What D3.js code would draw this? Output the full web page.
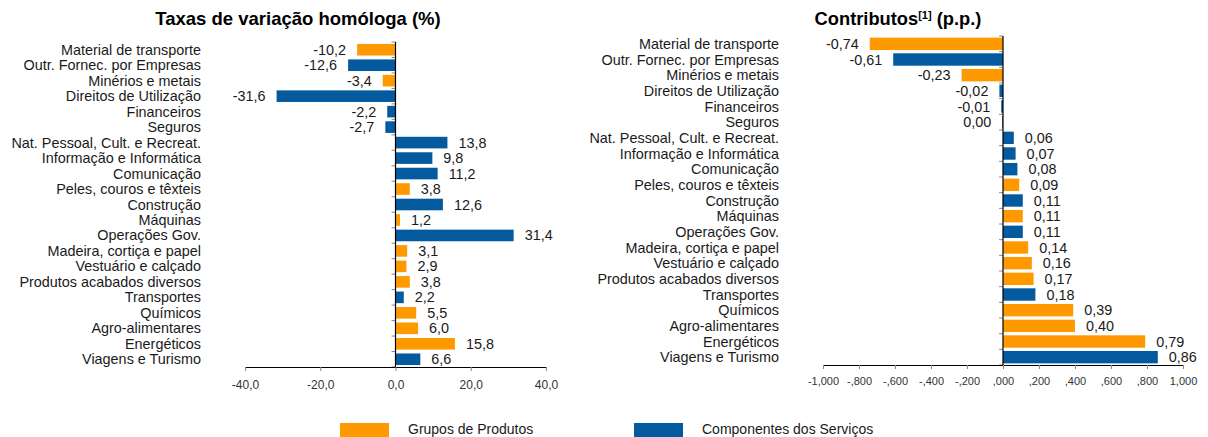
<!DOCTYPE html>
<html>
<head>
<meta charset="utf-8">
<script src="https://cdn.jsdelivr.net/npm/d3@7"></script>
<style>
  body { margin: 0; background: #fff; }
  text { font-family: "Liberation Sans", Arial, sans-serif; }
</style>
</head>
<body>
<svg id="chart" width="1208" height="437"></svg>
<script>
// categories in the order they appear (top to bottom), same for both panels
const categories = [
  "Material de transporte", "Outr. Fornec. por Empresas", "Minérios e metais",
  "Direitos de Utilização", "Financeiros", "Seguros", "Nat. Pessoal, Cult. e Recreat.",
  "Informação e Informática", "Comunicação", "Peles, couros e têxteis", "Construção",
  "Máquinas", "Operações Gov.", "Madeira, cortiça e papel", "Vestuário e calçado",
  "Produtos acabados diversos", "Transportes", "Químicos", "Agro-alimentares",
  "Energéticos", "Viagens e Turismo"
];
// P = Grupos de Produtos, S = Componentes dos Serviços
const groups = ["P", "S", "P", "S", "S", "S", "S", "S", "S", "P", "S",
                "P", "S", "P", "P", "P", "S", "P", "P", "P", "S"];
const taxas = [-10.2, -12.6, -3.4, -31.6, -2.2, -2.7, 13.8, 9.8, 11.2, 3.8, 12.6,
               1.2, 31.4, 3.1, 2.9, 3.8, 2.2, 5.5, 6.0, 15.8, 6.6];
const contributos = [-0.74, -0.61, -0.23, -0.02, -0.01, -0.004, 0.06, 0.07, 0.08, 0.09, 0.11,
                     0.11, 0.11, 0.14, 0.16, 0.17, 0.18, 0.39, 0.40, 0.79, 0.86];
const taxasTicks = [-40, -20, 0, 20, 40];
const contribTicks = [-1, -0.8, -0.6, -0.4, -0.2, 0, 0.2, 0.4, 0.6, 0.8, 1];
const legendLabels = ["Grupos de Produtos", "Componentes dos Serviços"];

const colors = { P: "#FF9900", S: "#045A9E" };
const pt = d3.formatLocale({ decimal: ",", thousands: ".", grouping: [3], currency: ["", "€"], minus: "-" });

const svg = d3.select("#chart");

function panel(o) {
  const x = d3.scaleLinear().domain(o.domain).range([o.left, o.right]);
  const y = d3.scaleBand().domain(categories).range([o.top, o.bottom])
    .paddingInner(o.pad).paddingOuter(o.pad / 2);
  const yb = d3.scaleLinear().domain([0, categories.length]).range([o.top, o.bottom]);
  const g = svg.append("g");

  // bars
  g.selectAll("rect.bar")
    .data(o.values)
    .join("rect")
    .attr("class", "bar")
    .attr("x", d => x(Math.min(0, d)))
    .attr("width", d => Math.abs(x(d) - x(0)))
    .attr("y", (d, i) => y(categories[i]))
    .attr("height", y.bandwidth())
    .attr("fill", (d, i) => colors[groups[i]]);

  // little ticks left of the zero line, between categories
  g.selectAll("line.ytick")
    .data(d3.range(categories.length + 1))
    .join("line")
    .attr("x1", x(0) - 4).attr("x2", x(0))
    .attr("y1", d => yb(d)).attr("y2", d => yb(d))
    .attr("stroke", "#888").attr("stroke-width", 1);

  g.append("line")
    .attr("x1", x(0)).attr("x2", x(0))
    .attr("y1", o.top).attr("y2", o.axisY)
    .attr("stroke", "#000").attr("stroke-width", 1.2);

  // x axis
  const ax = g.append("g")
    .attr("transform", "translate(0," + o.axisY + ")")
    .call(d3.axisBottom(x).tickValues(o.ticks).tickFormat(o.tickFmt)
      .tickSize(4).tickSizeOuter(0).tickPadding(o.tickPad));
  ax.select(".domain").attr("stroke", "#000").attr("stroke-width", 1.2);
  ax.selectAll(".tick line").attr("stroke", "#888");
  ax.selectAll(".tick text").attr("fill", "#333").style("font-size", o.tickFont + "px")
    .style("font-family", "'Liberation Sans', Arial, sans-serif");

  // category labels
  g.selectAll("text.cat")
    .data(categories)
    .join("text")
    .attr("class", "cat")
    .attr("x", o.labelX)
    .attr("y", d => y(d) + y.bandwidth() / 2)
    .attr("dy", "0.35em")
    .attr("text-anchor", "end")
    .style("font-size", "14.4px")
    .attr("fill", "#1a1a1a")
    .text(d => d);

  // value labels
  g.selectAll("text.val")
    .data(o.values)
    .join("text")
    .attr("class", "val")
    .attr("x", d => d < 0 ? x(d) - o.gap : x(d) + o.gap)
    .attr("y", (d, i) => y(categories[i]) + y.bandwidth() / 2)
    .attr("dy", "0.35em")
    .attr("text-anchor", d => d < 0 ? "end" : "start")
    .style("font-size", "14.4px")
    .attr("fill", "#1a1a1a")
    .text(o.valFmt);
}

panel({
  values: taxas, domain: [-40, 40], left: 245, right: 546,
  top: 42, bottom: 367, axisY: 367, pad: 0.25,
  ticks: taxasTicks, tickFmt: pt.format(".1f"), tickFont: 12, tickPad: 9,
  labelX: 201, gap: 11, valFmt: pt.format(".1f")
});

panel({
  values: contributos, domain: [-1, 1], left: 823, right: 1183,
  top: 36, bottom: 365, axisY: 365, pad: 0.21,
  ticks: contribTicks,
  tickFmt: v => pt.format(".3f")(v).replace(/^(-?)0,/, "$1,"),
  tickFont: 11, tickPad: 8,
  labelX: 779, gap: 11, valFmt: pt.format(".2f")
});

// titles
svg.append("text")
  .attr("x", 298).attr("y", 25)
  .attr("text-anchor", "middle")
  .style("font-size", "18.5px").style("font-weight", "bold")
  .text("Taxas de variação homóloga (%)");

const t2 = svg.append("text")
  .attr("x", 898).attr("y", 25)
  .attr("text-anchor", "middle")
  .style("font-size", "18.3px").style("font-weight", "bold");
t2.append("tspan").text("Contributos");
t2.append("tspan").attr("dy", -6).style("font-size", "11px").text("[1]");
t2.append("tspan").attr("dy", 6).text(" (p.p.)");

// legend
const legX = [340, 634];
const leg = svg.selectAll("g.leg")
  .data(legendLabels)
  .join("g")
  .attr("class", "leg")
  .attr("transform", (d, i) => "translate(" + legX[i] + ",423)");
leg.append("rect")
  .attr("width", 49).attr("height", 16)
  .attr("fill", (d, i) => colors[["P", "S"][i]]);
leg.append("text")
  .attr("x", 68).attr("y", 10.5)
  .style("font-size", "14px").attr("fill", "#1a1a1a")
  .text(d => d);
</script>
</body>
</html>
